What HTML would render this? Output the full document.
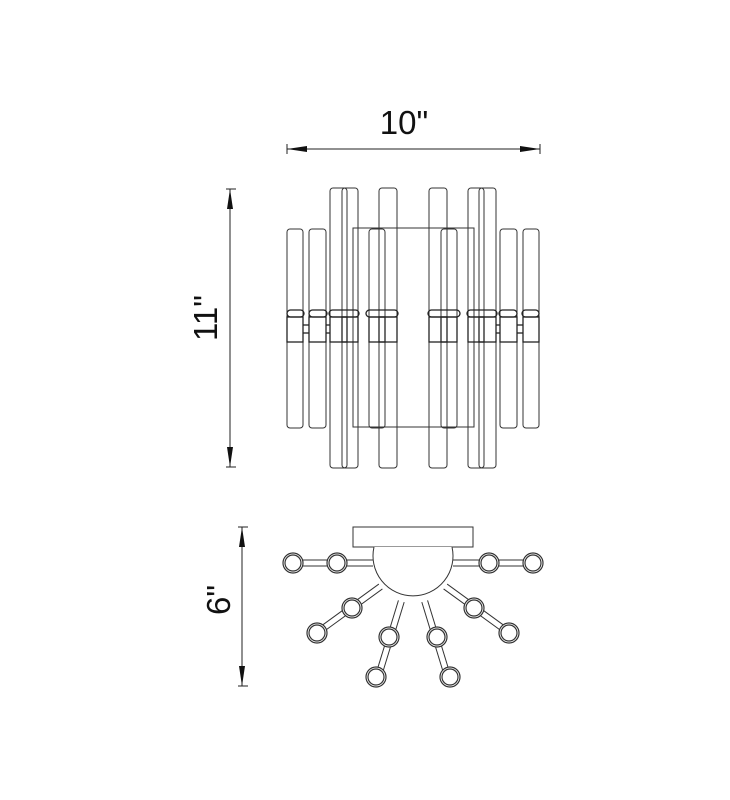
<!DOCTYPE html>
<html><head><style>
html,body{margin:0;padding:0;background:#fff;}
svg{display:block}
text{font-family:"Liberation Sans",Arial,sans-serif;fill:#111}
</style></head><body>
<svg width="730" height="800" viewBox="0 0 730 800" xmlns="http://www.w3.org/2000/svg">
<defs>
<marker id="ar" viewBox="0 0 20 6" refX="20" refY="3" markerWidth="20" markerHeight="6" orient="auto-start-reverse" markerUnits="userSpaceOnUse"><path d="M0,0 L20,3 L0,6 z" fill="#111"/></marker>
</defs>
<!-- 10" -->
<text x="404" y="134" font-size="33" text-anchor="middle">10"</text>
<line x1="287" y1="149" x2="540" y2="149" stroke="#222" stroke-width="1" marker-start="url(#ar)" marker-end="url(#ar)"/>
<line x1="287" y1="144" x2="287" y2="154" stroke="#222"/>
<line x1="540" y1="144" x2="540" y2="154" stroke="#222"/>
<!-- 11" -->
<text transform="translate(217,318) rotate(-90)" font-size="33" text-anchor="middle">11"</text>
<line x1="230" y1="189" x2="230" y2="467" stroke="#222" stroke-width="1" marker-start="url(#ar)" marker-end="url(#ar)"/>
<line x1="226" y1="189" x2="236" y2="189" stroke="#222"/>
<line x1="226" y1="467" x2="236" y2="467" stroke="#222"/>
<!-- 6" -->
<text transform="translate(230,600) rotate(-90)" font-size="33" text-anchor="middle">6"</text>
<line x1="242" y1="527" x2="242" y2="686" stroke="#222" stroke-width="1" marker-start="url(#ar)" marker-end="url(#ar)"/>
<line x1="238" y1="527" x2="248" y2="527" stroke="#222"/>
<line x1="238" y1="686" x2="248" y2="686" stroke="#222"/>

<!-- front view -->
<g fill="none" stroke="#333" stroke-width="1">
<rect x="353" y="228" width="121" height="199"/>
<g id="half">
<rect x="287" y="229" width="16" height="199" rx="3"/>
<rect x="309" y="229" width="17" height="199" rx="3"/>
<rect x="330" y="188" width="17" height="280" rx="3"/>
<rect x="342" y="188" width="16" height="280" rx="3"/>
<rect x="379" y="188" width="18" height="280" rx="3"/>
<rect x="369" y="229" width="16" height="199" rx="3"/>
<g stroke="#222" stroke-width="1.3">
<rect x="287" y="310" width="17" height="7" rx="3.5"/>
<rect x="287" y="317" width="16" height="25"/>
<rect x="309" y="310" width="18" height="7" rx="3.5"/>
<rect x="309" y="317" width="17" height="25"/>
<line x1="303" y1="325" x2="309" y2="325"/><line x1="303" y1="333" x2="309" y2="333"/>
<line x1="326" y1="325" x2="330" y2="325"/><line x1="326" y1="333" x2="330" y2="333"/>
<rect x="329" y="310" width="30" height="7" rx="3.5"/>
<rect x="330" y="317" width="17" height="25"/>
<rect x="342" y="317" width="16" height="25"/>
<rect x="366" y="310" width="32" height="7" rx="3.5"/>
<rect x="369" y="317" width="16" height="25"/>
<rect x="379" y="317" width="18" height="25"/>
</g>
</g>
<use href="#half" transform="translate(826,0) scale(-1,1)"/>
</g>

<!-- top view -->
<g fill="none" stroke="#333" stroke-width="1">
<rect x="353" y="527" width="120" height="20"/>
</g>
<g stroke="#333" stroke-width="1" fill="#fff">
<g>
<line x1="293" y1="560" x2="373" y2="560"/><line x1="293" y1="566" x2="373" y2="566"/>
<line x1="453" y1="560" x2="533" y2="560"/><line x1="453" y1="566" x2="533" y2="566"/>
<g transform="translate(413,563) rotate(144)"><line x1="40" y1="-3" x2="115" y2="-3"/><line x1="40" y1="3" x2="115" y2="3"/></g>
<g transform="translate(413,563) rotate(36)"><line x1="40" y1="-3" x2="115" y2="-3"/><line x1="40" y1="3" x2="115" y2="3"/></g>
<g transform="translate(413,563) rotate(107)"><line x1="40" y1="-3" x2="120" y2="-3"/><line x1="40" y1="3" x2="120" y2="3"/></g>
<g transform="translate(413,563) rotate(73)"><line x1="40" y1="-3" x2="120" y2="-3"/><line x1="40" y1="3" x2="120" y2="3"/></g>
</g>
<path d="M374,547 A40,40 0 1,0 452,547" fill="#fff"/>
<g fill="#fff" stroke-width="1.2">
<circle cx="293" cy="563" r="10"/><circle cx="293" cy="563" r="8"/>
<circle cx="337" cy="563" r="10"/><circle cx="337" cy="563" r="8"/>
<circle cx="489" cy="563" r="10"/><circle cx="489" cy="563" r="8"/>
<circle cx="533" cy="563" r="10"/><circle cx="533" cy="563" r="8"/>
<circle cx="352" cy="608" r="10"/><circle cx="352" cy="608" r="8"/>
<circle cx="317" cy="633" r="10"/><circle cx="317" cy="633" r="8"/>
<circle cx="474" cy="608" r="10"/><circle cx="474" cy="608" r="8"/>
<circle cx="509" cy="633" r="10"/><circle cx="509" cy="633" r="8"/>
<circle cx="389" cy="637" r="10"/><circle cx="389" cy="637" r="8"/>
<circle cx="376" cy="677" r="10"/><circle cx="376" cy="677" r="8"/>
<circle cx="437" cy="637" r="10"/><circle cx="437" cy="637" r="8"/>
<circle cx="450" cy="677" r="10"/><circle cx="450" cy="677" r="8"/>
</g>
</g>
</svg>
</body></html>
